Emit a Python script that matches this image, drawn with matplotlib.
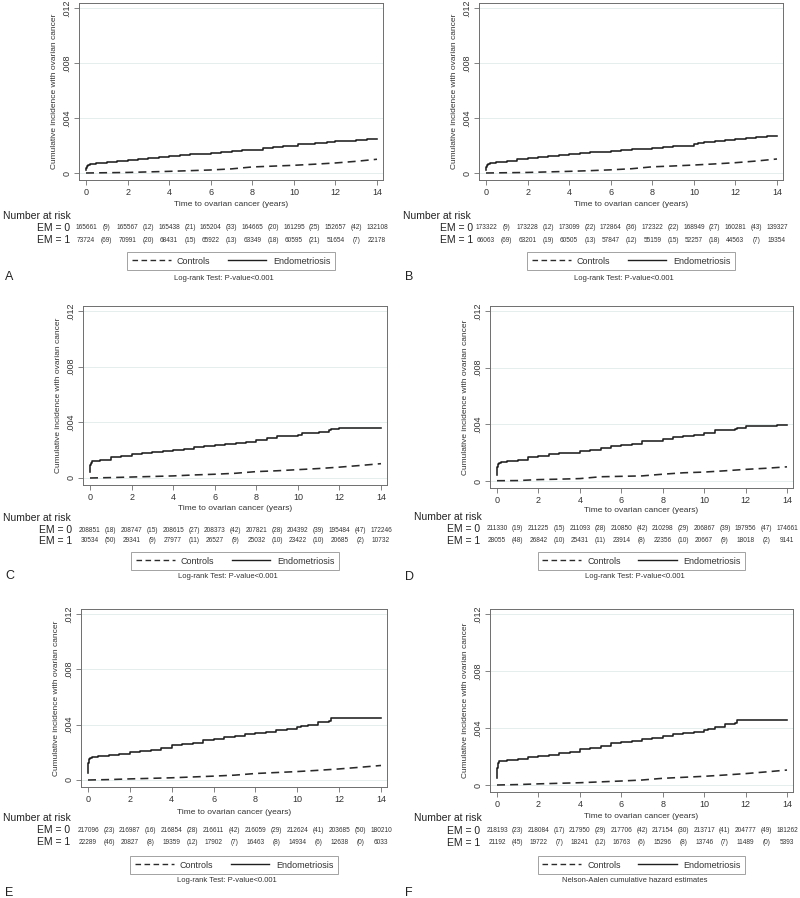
import matplotlib
matplotlib.use("Agg")
import matplotlib.pyplot as plt
from matplotlib.lines import Line2D
from matplotlib.transforms import blended_transform_factory

plt.rcParams['font.family'] = ['Liberation Sans', 'DejaVu Sans']

W, H = 800, 898

# ---------------- data ----------------
panel_letters = ["A", "B", "C", "D", "E", "F"]
captions = ["Log-rank Test: P-value<0.001"] * 5 + ["Nelson-Aalen cumulative hazard estimates"]
xticks = [0, 2, 4, 6, 8, 10, 12, 14]
yticks = [0, 0.004, 0.008, 0.012]
ytick_labels = ["0", ".004", ".008", ".012"]
xlabel = "Time to ovarian cancer (years)"
ylabel = "Cumulative incidence with ovarian cancer"
legend_labels = ["Controls", "Endometriosis"]

# Endometriosis curves (time, cumulative incidence)
endo_t = [0, 0.02, 0.05, 0.1, 0.2, 0.5, 1, 1.5, 2, 2.5, 3, 3.5, 4, 4.5, 5, 5.5, 6, 6.5, 7, 7.5,
          8, 8.5, 9, 9.5, 10, 10.2, 10.5, 11, 11.5, 11.6, 12, 12.5, 13, 13.3, 13.5, 14]
endo_A = [0.00020, 0.00040, 0.00050, 0.00056, 0.00065, 0.00073, 0.00080, 0.00088, 0.00097, 0.00104, 0.00110, 0.00118,
          0.00126, 0.00131, 0.00136, 0.00140, 0.00145, 0.00152, 0.00162, 0.00164,
          0.00165, 0.00180, 0.00187, 0.00193, 0.00200, 0.00210, 0.00212, 0.00215, 0.00220, 0.00222, 0.00233, 0.00236, 0.00237, 0.00238, 0.00250, 0.00250]
endo_B = [0.00020, 0.00045, 0.00055, 0.00062, 0.00070, 0.00080, 0.00090, 0.00100, 0.00110, 0.00118, 0.00125, 0.00132,
          0.00140, 0.00145, 0.00150, 0.00155, 0.00160, 0.00166, 0.00172, 0.00176,
          0.00180, 0.00188, 0.00195, 0.00200, 0.00210, 0.00218, 0.00222, 0.00230, 0.00240, 0.00242, 0.00250, 0.00258, 0.00260, 0.00262, 0.00270, 0.00270]
endo_C = [0.00040, 0.00090, 0.00110, 0.00120, 0.00125, 0.00130, 0.00150, 0.00160, 0.00170, 0.00180, 0.00190, 0.00195,
          0.00200, 0.00210, 0.00220, 0.00232, 0.00240, 0.00245, 0.00250, 0.00260,
          0.00270, 0.00285, 0.00300, 0.00305, 0.00310, 0.00320, 0.00325, 0.00330, 0.00345, 0.00350, 0.00360, 0.00362, 0.00362, 0.00362, 0.00362, 0.00362]
endo_D = [0.00040, 0.00100, 0.00120, 0.00126, 0.00132, 0.00138, 0.00150, 0.00167, 0.00175, 0.00190, 0.00195, 0.00200,
          0.00210, 0.00222, 0.00235, 0.00250, 0.00255, 0.00260, 0.00280, 0.00285,
          0.00300, 0.00310, 0.00320, 0.00325, 0.00340, 0.00342, 0.00360, 0.00362, 0.00370, 0.00372, 0.00385, 0.00387, 0.00390, 0.00390, 0.00392, 0.00395]
endo_E = [0.00050, 0.00120, 0.00150, 0.00160, 0.00165, 0.00170, 0.00180, 0.00190, 0.00200, 0.00210, 0.00220, 0.00232,
          0.00250, 0.00260, 0.00270, 0.00290, 0.00300, 0.00310, 0.00320, 0.00330,
          0.00340, 0.00350, 0.00360, 0.00370, 0.00380, 0.00390, 0.00400, 0.00420, 0.00430, 0.00445, 0.00445, 0.00445, 0.00445, 0.00445, 0.00445, 0.00445]
endo_F = [0.00050, 0.00120, 0.00155, 0.00165, 0.00170, 0.00175, 0.00185, 0.00195, 0.00205, 0.00212, 0.00222, 0.00235,
          0.00252, 0.00262, 0.00272, 0.00292, 0.00305, 0.00312, 0.00322, 0.00332,
          0.00345, 0.00355, 0.00365, 0.00375, 0.00385, 0.00395, 0.00405, 0.00425, 0.00435, 0.00455, 0.00455, 0.00455, 0.00455, 0.00455, 0.00455, 0.00455]

# Controls curves
ctrl_t = [0, 1, 2, 3, 4, 5, 6, 7, 8, 9, 10, 11, 12, 13, 14]
ctrl_A = [0.00000, 0.00002, 0.00004, 0.00008, 0.00012, 0.00017, 0.00022, 0.00030, 0.00044, 0.00050, 0.00056, 0.00064, 0.00073, 0.00085, 0.00100]
ctrl_B = [0.00000, 0.00002, 0.00004, 0.00008, 0.00012, 0.00017, 0.00023, 0.00031, 0.00045, 0.00051, 0.00058, 0.00066, 0.00075, 0.00087, 0.00102]
ctrl_C = [0.00000, 0.00003, 0.00007, 0.00011, 0.00015, 0.00022, 0.00027, 0.00034, 0.00046, 0.00052, 0.00060, 0.00068, 0.00078, 0.00090, 0.00103]
ctrl_D = [0.00002, 0.00003, 0.00010, 0.00013, 0.00017, 0.00030, 0.00033, 0.00036, 0.00048, 0.00058, 0.00063, 0.00072, 0.00082, 0.00090, 0.00100]
ctrl_E = [0.00000, 0.00003, 0.00008, 0.00012, 0.00016, 0.00022, 0.00028, 0.00035, 0.00047, 0.00054, 0.00061, 0.00070, 0.00080, 0.00092, 0.00105]
ctrl_F = [0.00000, 0.00003, 0.00008, 0.00012, 0.00016, 0.00022, 0.00028, 0.00035, 0.00047, 0.00054, 0.00061, 0.00070, 0.00080, 0.00092, 0.00105]

# Number at risk (at years 0,2,...,14) and counts between (in parentheses)
risk0_A = ["165661", "165567", "165438", "165204", "164665", "161295", "152657", "132108"]
paren0_A = ["(9)", "(12)", "(21)", "(33)", "(20)", "(25)", "(42)"]
risk1_A = ["73724", "70991", "68431", "65922", "63349", "60595", "51654", "22178"]
paren1_A = ["(69)", "(20)", "(15)", "(13)", "(18)", "(21)", "(7)"]

risk0_B = ["173322", "173228", "173099", "172864", "172322", "168949", "160281", "139327"]
paren0_B = ["(9)", "(12)", "(22)", "(36)", "(22)", "(27)", "(43)"]
risk1_B = ["66063", "63201", "60505", "57847", "55159", "52257", "44563", "19354"]
paren1_B = ["(69)", "(19)", "(13)", "(12)", "(15)", "(18)", "(7)"]

risk0_C = ["208851", "208747", "208615", "208373", "207821", "204392", "195484", "172246"]
paren0_C = ["(18)", "(15)", "(27)", "(42)", "(28)", "(39)", "(47)"]
risk1_C = ["30534", "29341", "27977", "26527", "25032", "23422", "20685", "10732"]
paren1_C = ["(50)", "(9)", "(11)", "(9)", "(10)", "(10)", "(2)"]

risk0_D = ["211330", "211225", "211093", "210850", "210298", "206867", "197956", "174661"]
paren0_D = ["(19)", "(15)", "(28)", "(42)", "(29)", "(39)", "(47)"]
risk1_D = ["28055", "26842", "25431", "23914", "22356", "20667", "18018", "9141"]
paren1_D = ["(48)", "(10)", "(11)", "(8)", "(10)", "(9)", "(2)"]

risk0_E = ["217096", "216987", "216854", "216611", "216059", "212624", "203685", "180210"]
paren0_E = ["(23)", "(16)", "(28)", "(42)", "(29)", "(41)", "(50)"]
risk1_E = ["22289", "20827", "19359", "17902", "16463", "14934", "12638", "6033"]
paren1_E = ["(46)", "(8)", "(12)", "(7)", "(8)", "(6)", "(0)"]

risk0_F = ["218193", "218084", "217950", "217706", "217154", "213717", "204777", "181262"]
paren0_F = ["(23)", "(17)", "(29)", "(42)", "(30)", "(41)", "(49)"]
risk1_F = ["21192", "19722", "18241", "16763", "15296", "13746", "11489", "5393"]
paren1_F = ["(45)", "(7)", "(12)", "(6)", "(8)", "(7)", "(0)"]

endo = [endo_A, endo_B, endo_C, endo_D, endo_E, endo_F]
ctrl = [ctrl_A, ctrl_B, ctrl_C, ctrl_D, ctrl_E, ctrl_F]
risk0 = [risk0_A, risk0_B, risk0_C, risk0_D, risk0_E, risk0_F]
paren0 = [paren0_A, paren0_B, paren0_C, paren0_D, paren0_E, paren0_F]
risk1 = [risk1_A, risk1_B, risk1_C, risk1_D, risk1_E, risk1_F]
paren1 = [paren1_A, paren1_B, paren1_C, paren1_D, paren1_E, paren1_F]

# ---------------- layout (pixels) ----------------
layout = [
    dict(x0=86, x14=377, top=3, bot=180, xl=205, nar=216, em0=228, em1=240, leg=261, cap=278, letx=5, lety=277, emx=70, narx=3),
    dict(x0=486, x14=777, top=3, bot=180, xl=205, nar=216, em0=228, em1=240, leg=261, cap=278, letx=405, lety=277, emx=473, narx=403),
    dict(x0=90, x14=381, top=306, bot=485, xl=509, nar=518, em0=530, em1=541, leg=561, cap=577, letx=5, lety=576, emx=72, narx=3),
    dict(x0=497, x14=787, top=306, bot=488, xl=511, nar=517, em0=529, em1=541, leg=561, cap=577, letx=405, lety=577, emx=480, narx=414),
    dict(x0=88, x14=381, top=609, bot=787, xl=812, nar=818, em0=830, em1=842, leg=865, cap=881, letx=5, lety=893, emx=70, narx=3),
    dict(x0=497, x14=787, top=609, bot=792, xl=816, nar=818, em0=831, em1=843, leg=865, cap=880, letx=405, lety=893, emx=480, narx=414),
]

fig = plt.figure(figsize=(W / 100, H / 100), dpi=100)
fig.patch.set_facecolor('white')

def fy(py):
    return 1 - py / H

spine_c = '#6e6e6e'
for i, L in enumerate(layout):
    ppy = (L['x14'] - L['x0']) / 14.0
    left = L['x0'] - 7
    right = L['x14'] + 6
    ax = fig.add_axes([left / W, fy(L['bot']), (right - left) / W, (L['bot'] - L['top']) / H])
    ax.set_xlim(-7 / ppy, 14 + 6 / ppy)
    span = (L['bot'] - 7) - (L['top'] + 5)
    upp = 0.012 / span
    ax.set_ylim(-7 * upp, 0.012 + 5 * upp)
    for yv in yticks:
        ax.axhline(yv, color='#e6eded', lw=0.7, zorder=0)
    ax.plot(ctrl_t, ctrl[i], color='#2a2a2a', lw=1.15, ls=(0, (5, 3.2)), zorder=3)
    ax.plot(endo_t, endo[i], color='#1e1e1e', lw=1.15, drawstyle='steps-post', zorder=3)
    ax.set_xticks(xticks)
    ax.set_xticklabels([str(v) for v in xticks], fontsize=6.5, color='#333333')
    ax.set_yticks(yticks)
    ax.set_yticklabels(ytick_labels, fontsize=6.5, color='#333333', rotation=90, va='center')
    ax.tick_params(axis='both', length=3.5, width=0.6, color=spine_c, pad=2)
    for s in ax.spines.values():
        s.set_color(spine_c)
        s.set_linewidth(0.7)
    ax.set_ylabel(ylabel, fontsize=6, color='#333333', labelpad=3)

    cx = (left + right) / 2
    fig.text(cx / W, fy(L['xl']), xlabel, fontsize=6, color='#333333', ha='center', va='center')

    tr = blended_transform_factory(ax.transData, fig.transFigure)
    fig.text(L['narx'] / W, fy(L['nar']), "Number at risk", fontsize=7.5, color='#222222', va='center', ha='left')
    fig.text(L['emx'] / W, fy(L['em0']), "EM = 0", fontsize=7.5, color='#222222', va='center', ha='right')
    fig.text(L['emx'] / W, fy(L['em1']), "EM = 1", fontsize=7.5, color='#222222', va='center', ha='right')
    for rowy, nums, pars in [(L['em0'], risk0[i], paren0[i]), (L['em1'], risk1[i], paren1[i])]:
        for k, s in enumerate(nums):
            ax.text(xticks[k], fy(rowy), s, transform=tr, fontsize=4.7, color='#333333', ha='center', va='center', clip_on=False)
        for k, s in enumerate(pars):
            ax.text(xticks[k] + 1, fy(rowy), s, transform=tr, fontsize=4.7, color='#333333', ha='center', va='center', clip_on=False)

    handles = [Line2D([], [], color='#2a2a2a', lw=1.0, ls=(0, (4, 2.5))),
               Line2D([], [], color='#1e1e1e', lw=1.0)]
    leg = fig.legend(handles, legend_labels, loc='center', bbox_to_anchor=(cx / W, fy(L['leg'])),
                     ncol=2, fontsize=6.5, frameon=True, fancybox=False, handlelength=4.3,
                     columnspacing=1.9, handletextpad=0.7, borderpad=0.5, borderaxespad=0)
    leg.get_frame().set_edgecolor('#8a8a8a')
    leg.get_frame().set_linewidth(0.7)
    for t in leg.get_texts():
        t.set_color('#333333')
    fig.text((cx - 7) / W, fy(L['cap']), captions[i], fontsize=5.5, color='#333333', ha='center', va='center')
    fig.text(L['letx'] / W, fy(L['lety']), panel_letters[i], fontsize=9, color='#222222', ha='left', va='center')

fig.savefig("out.png", dpi=100, facecolor='white')
